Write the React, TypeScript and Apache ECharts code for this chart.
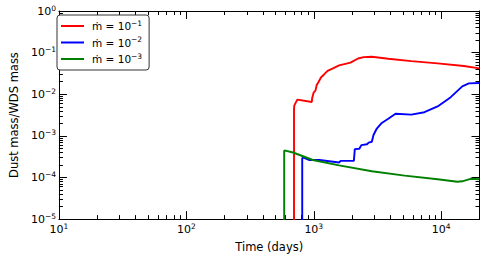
import React, { useEffect, useRef } from 'react';
import * as echarts from 'echarts';

// Red: mdot = 10^-1
const redX = [700, 700, 704, 743, 966, 971, 1000, 1031, 1055, 1093, 1139, 1210, 1283, 1402, 1581, 1942, 2228, 2466, 2857, 3846, 5835, 9380, 15070, 20000];
const redY = [1e-7, 4.5e-3, 5.4e-3, 7.4e-3, 6.5e-3, 8.0e-3, 1.11e-2, 1.22e-2, 1.66e-2, 2.0e-2, 2.53e-2, 3.03e-2, 3.63e-2, 4.14e-2, 4.95e-2, 5.74e-2, 7.24e-2, 7.8e-2, 7.97e-2, 7.13e-2, 6.26e-2, 5.5e-2, 4.78e-2, 4.19e-2];

// Blue: mdot = 10^-2
const blueX = [812, 812, 832, 926, 1107, 1581, 1626, 2065, 2100, 2279, 2364, 2618, 2698, 2857, 2945, 3126, 3419, 3846, 4385, 5835, 7390, 9380, 11890, 14650, 16480, 20000];
const blueY = [1e-7, 2.9e-4, 3.0e-4, 2.63e-4, 2.63e-4, 2.29e-4, 2.5e-4, 2.5e-4, 4.8e-4, 4.9e-4, 6.0e-4, 6.3e-4, 6.9e-4, 7.2e-4, 1.05e-3, 1.5e-3, 2.04e-3, 2.57e-3, 3.39e-3, 3.24e-3, 3.7e-3, 5.1e-3, 8.5e-3, 1.55e-2, 1.82e-2, 1.86e-2];

// Green: mdot = 10^-3
const greenX = [586, 586, 688, 983, 1581, 2857, 5176, 9380, 13400, 14650, 16990, 20000];
const greenY = [1e-7, 4.47e-4, 3.98e-4, 2.63e-4, 1.95e-4, 1.41e-4, 1.11e-4, 9.1e-5, 7.9e-5, 8.1e-5, 9.3e-5, 9.1e-5];

const seriesNames = ['ṁ = 10^−1', 'ṁ = 10^−2', 'ṁ = 10^−3'];
const seriesColors = ['#ff0000', '#0000ff', '#008000'];

const xMajorTicks = [10, 100, 1000, 10000];
const yMajorTicks = [1e-5, 1e-4, 1e-3, 1e-2, 1e-1, 1];
const minorMantissas = [2, 3, 4, 5, 6, 7, 8, 9];
const xDecades = [10, 100, 1000, 10000];
const yDecades = [1e-5, 1e-4, 1e-3, 1e-2, 1e-1];

const xMinorTicks = xDecades.flatMap((d) => minorMantissas.map((m) => m * d)).filter((v) => v < 20000);
const yMinorTicks = yDecades.flatMap((d) => minorMantissas.map((m) => m * d));

const FONT = 'DejaVu Sans';

const supLabel = (v: number) => {
  const e = Math.round(Math.log10(v));
  return '10{sup|' + (e < 0 ? '−' + -e : String(e)) + '}';
};

const labelRich = {
  sup: { fontSize: 7.5, verticalAlign: 'top', lineHeight: 9, fontFamily: FONT, color: '#000' },
};

const pairs = (xs: number[], ys: number[]) => xs.map((x, i) => [x, ys[i]]);

export default function App() {
  const ref = useRef<HTMLDivElement>(null);
  useEffect(() => {
    if (!ref.current) return;
    const chart = echarts.init(ref.current, undefined, { renderer: 'svg' });
    const xBase = { type: 'log', logBase: 10, min: 10, max: 20000, splitLine: { show: false }, gridIndex: 0 };
    const yBase = { type: 'log', logBase: 10, min: 1e-5, max: 1, splitLine: { show: false }, gridIndex: 0 };
    const lineStyle = { color: '#000', width: 1 };
    const major = (vals: number[]) => ({ show: true, inside: true, length: 8, customValues: vals, lineStyle: { color: '#000', width: 1 } });
    const minor = (vals: number[]) => ({ show: true, inside: true, length: 4, customValues: vals, lineStyle: { color: '#000', width: 1 } });
    const noLabel = { show: false };
    const option: any = {
      animation: false,
      grid: { left: 52, right: 5.5, top: 11, bottom: 36, containLabel: false },
      legend: {
        data: seriesNames.map((n) => ({ name: n, icon: 'rect' })),
        orient: 'vertical',
        left: 57,
        top: 15,
        padding: [4, 7, 4, 4],
        itemWidth: 23,
        itemHeight: 2,
        itemGap: 2.5,
        borderColor: '#333',
        borderWidth: 1,
        borderRadius: 3,
        backgroundColor: '#fff',
        formatter: (name: string) => name.replace(/10\^(.+)$/, '10{sup|$1}'),
        textStyle: {
          fontFamily: FONT,
          fontSize: 10.5,
          color: '#000',
          lineHeight: 14,
          padding: [0, 0, 0, 3],
          rich: { sup: { fontSize: 7.5, verticalAlign: 'top', lineHeight: 8, fontFamily: FONT, color: '#000' } },
        },
      },
      xAxis: [
        {
          ...xBase,
          position: 'bottom',
          axisLine: { show: true, onZero: false, lineStyle },
          axisTick: major(xMajorTicks),
          axisLabel: {
            customValues: xMajorTicks,
            formatter: supLabel,
            rich: labelRich,
            margin: 3,
            fontSize: 11,
            lineHeight: 14,
            color: '#000',
            fontFamily: FONT,
          },
          name: 'Time (days)',
          nameLocation: 'middle',
          nameGap: 18,
          nameTextStyle: { fontFamily: FONT, fontSize: 11.5, color: '#000' },
        },
        { ...xBase, position: 'bottom', axisLine: { show: false }, axisTick: minor(xMinorTicks), axisLabel: noLabel },
        { ...xBase, position: 'top', axisLine: { show: true, onZero: false, lineStyle }, axisTick: major(xMajorTicks), axisLabel: noLabel },
        { ...xBase, position: 'top', axisLine: { show: false }, axisTick: minor(xMinorTicks), axisLabel: noLabel },
      ],
      yAxis: [
        {
          ...yBase,
          position: 'left',
          axisLine: { show: true, onZero: false, lineStyle },
          axisTick: major(yMajorTicks),
          axisLabel: {
            customValues: yMajorTicks,
            formatter: supLabel,
            rich: labelRich,
            margin: 3,
            fontSize: 11,
            lineHeight: 14,
            color: '#000',
            fontFamily: FONT,
          },
          name: 'Dust mass/WDS mass',
          nameLocation: 'middle',
          nameGap: 37,
          nameTextStyle: { fontFamily: FONT, fontSize: 11.5, color: '#000' },
        },
        { ...yBase, position: 'left', axisLine: { show: false }, axisTick: minor(yMinorTicks), axisLabel: noLabel },
        { ...yBase, position: 'right', axisLine: { show: true, onZero: false, lineStyle }, axisTick: major(yMajorTicks), axisLabel: noLabel },
        { ...yBase, position: 'right', axisLine: { show: false }, axisTick: minor(yMinorTicks), axisLabel: noLabel },
      ],
      series: [
        [redX, redY],
        [blueX, blueY],
        [greenX, greenY],
      ].map(([xs, ys], i) => ({
        type: 'line',
        name: seriesNames[i],
        xAxisIndex: 0,
        yAxisIndex: 0,
        data: pairs(xs, ys),
        symbol: 'none',
        showSymbol: false,
        clip: true,
        color: seriesColors[i],
        itemStyle: { color: seriesColors[i] },
        lineStyle: { color: seriesColors[i], width: 1.9 },
      })),
    };
    chart.setOption(option);
    return () => chart.dispose();
  }, []);
  return <div ref={ref} style={{ width: 485, height: 258, position: 'absolute', left: 0, top: 0 }} />;
}
